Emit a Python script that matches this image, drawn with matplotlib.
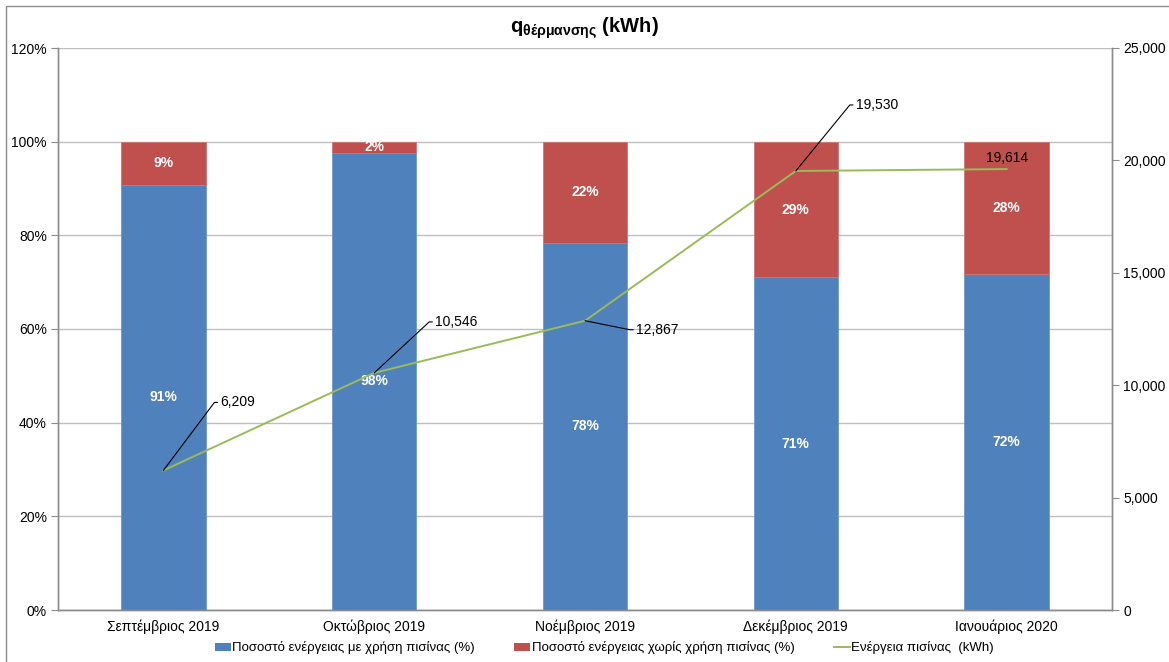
import math
import matplotlib
matplotlib.use("Agg")
import matplotlib.pyplot as plt
from matplotlib.patches import Rectangle, Patch
from matplotlib.lines import Line2D
from matplotlib.ticker import FuncFormatter

plt.rcParams['font.family'] = ['Liberation Sans', 'DejaVu Sans']
plt.rcParams['mathtext.fontset'] = 'custom'
plt.rcParams['mathtext.rm'] = 'Liberation Sans'
plt.rcParams['mathtext.bf'] = 'Liberation Sans:bold'

months = ["Σεπτέμβριος 2019", "Οκτώβριος 2019", "Νοέμβριος 2019",
          "Δεκέμβριος 2019", "Ιανουάριος 2020"]
with_pool_pct = [90.8, 97.6, 78.4, 71.0, 71.7]
without_pool_pct = [9.2, 2.4, 21.6, 29.0, 28.3]
pool_energy_kwh = [6209, 10546, 12867, 19530, 19614]

# label offsets (pixels) of the kWh values relative to their points
label_offsets = [(57, 68), (61, 51), (51, -9), (60, 66), (0, 4)]

BLUE = "#4F81BD"
RED = "#C0504D"
GREEN = "#9BBB59"
GRID = "#BFBFBF"
AXIS = "#8C8C8C"

W, H = 1169, 662
fig = plt.figure(figsize=(W / 100, H / 100), dpi=100)
ax = fig.add_axes([58 / W, 1 - 610 / H, (1112 - 58) / W, (610 - 48) / H])
ax2 = ax.twinx()

x = list(range(len(months)))
bw = 0.4
ax.bar(x, with_pool_pct, bw, color=BLUE, edgecolor="#6F98CC", linewidth=0.6, zorder=2)
ax.bar(x, without_pool_pct, bw, bottom=with_pool_pct, color=RED,
       edgecolor="#D07573", linewidth=0.6, zorder=2)

for xi, a, b in zip(x, with_pool_pct, without_pool_pct):
    ax.text(xi, a / 2, f"{round(a)}%", ha="center", va="center",
            color="white", fontsize=10, fontweight="bold", zorder=3)
    ax.text(xi, a + b / 2, f"{round(b)}%", ha="center", va="center",
            color="white", fontsize=10, fontweight="bold", zorder=3)

ax.set_xlim(-0.5, len(months) - 0.5)
ax.set_ylim(0, 120)
ax.set_yticks(range(0, 121, 20))
ax.yaxis.set_major_formatter(FuncFormatter(lambda v, p: f"{v:.0f}%"))
ax.grid(axis="y", color=GRID, linewidth=1.0, zorder=0)
ax.set_axisbelow(True)
ax.set_xticks(x)
ax.set_xticklabels(months, fontsize=10)
ax.tick_params(axis="x", length=0, pad=7)
ax.tick_params(axis="y", labelsize=10, length=5, color=AXIS, pad=3)

ax2.plot(x, pool_energy_kwh, color=GREEN, linewidth=1.4, zorder=4)
ax2.set_ylim(0, 25000)
ax2.set_yticks(range(0, 25001, 5000))
ax2.yaxis.set_major_formatter(FuncFormatter(lambda v, p: f"{v:,.0f}"))
ax2.tick_params(axis="y", labelsize=10, length=5, color=AXIS, pad=3)

for a_ in (ax, ax2):
    a_.spines["top"].set_visible(False)
    for side in ("left", "right", "bottom"):
        a_.spines[side].set_color(AXIS)
        a_.spines[side].set_linewidth(1.0)

for xi, v, (dx, dy) in zip(x, pool_energy_kwh, label_offsets):
    if dx == 0:
        ax2.annotate(f"{v:,}", (xi, v), xytext=(0, dy), textcoords="offset pixels",
                     ha="center", va="bottom", fontsize=10, zorder=5)
        continue
    ang = math.degrees(math.atan2(dy, dx - 6))
    ax2.annotate(f"{v:,}", (xi, v), xytext=(dx, dy), textcoords="offset pixels",
                 ha="left", va="center", fontsize=10, zorder=5,
                 arrowprops=dict(arrowstyle="-", color="black", linewidth=0.8,
                                 shrinkA=0, shrinkB=0, relpos=(0, 0.5),
                                 connectionstyle=f"angle,angleA=0,angleB={ang},rad=0"))

fig.text(0.5, 1 - 28 / H, r"$\mathbf{q_{θέρμανσης}}$ $\mathbf{(kWh)}$",
         ha="center", va="center", fontsize=14.5)

handles = [Patch(facecolor=BLUE, edgecolor="none"),
           Patch(facecolor=RED, edgecolor="none"),
           Line2D([0], [0], color=GREEN, linewidth=1.4)]
labels = ["Ποσοστό ενέργειας με χρήση πισίνας (%)",
          "Ποσοστό ενέργειας χωρίς χρήση πισίνας (%)",
          "Ενέργεια πισίνας  (kWh)"]
fig.legend(handles, labels, loc="center", bbox_to_anchor=(0.517, 1 - 648 / H),
           ncol=3, frameon=False, fontsize=9.5, handlelength=1.2, handleheight=0.6,
           handletextpad=0.1, columnspacing=3.0)

fig.add_artist(Rectangle((6 / W, -0.05), 1.2, 1 - 6 / H + 0.05,
                         transform=fig.transFigure, fill=False,
                         edgecolor="#8C8C8C", linewidth=1.0))

fig.savefig("out.png", dpi=100)
